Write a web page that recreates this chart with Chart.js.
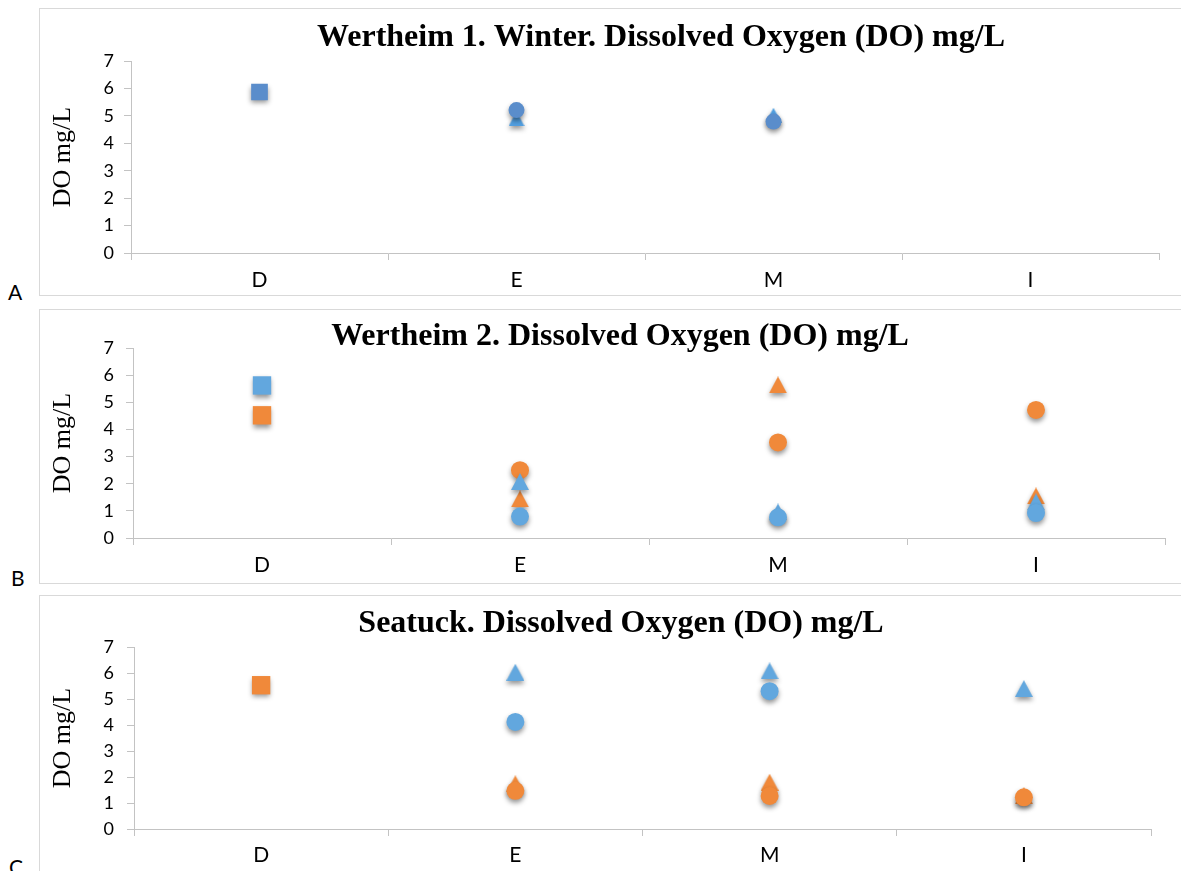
<!DOCTYPE html>
<html>
<head>
<meta charset="utf-8">
<script src="https://cdn.jsdelivr.net/npm/chart.js@4.4.1/dist/chart.umd.min.js"></script>
<style>
  html, body { margin: 0; padding: 0; background: #ffffff; }
  body { width: 1181px; height: 871px; position: relative; overflow: hidden; }
  .frame { position: absolute; left: 39px; width: 1200px; border: 1px solid #d9d9d9; box-sizing: border-box; }
  canvas { position: absolute; left: 40px; }
  .tag { position: absolute; font-family: Lato, "Open Sans", sans-serif; font-size: 21px; line-height: 21px; color: #000; }
</style>
</head>
<body>
<div class="frame" style="top:8px;height:288px"></div>
<div class="frame" style="top:309px;height:275px"></div>
<div class="frame" style="top:595px;height:320px"></div>

<canvas id="chartA" width="1141" height="285" style="top:9px"></canvas>
<canvas id="chartB" width="1141" height="273" style="top:310px"></canvas>
<canvas id="chartC" width="1141" height="275" style="top:596px"></canvas>

<div class="tag" style="left:8px;top:281px">A</div>
<div class="tag" style="left:11px;top:567px">B</div>
<div class="tag" style="left:9px;top:856px">C</div>

<script>
// Sampling sites along each transect
const categories = ['D', 'E', 'M', 'I'];
const yAxisTitle = 'DO mg/L';
const yMin = 0;
const yMax = 7;
const yStep = 1;

// Wertheim 1, winter survey
const w1Title = 'Wertheim 1. Winter. Dissolved Oxygen (DO) mg/L';
const w1SquareBlue   = [5.87, null, null, null];
const w1CircleBlue   = [null, 5.21, 4.79, null];
const w1TriangleBlue = [null, 4.89, 5.02, null];

// Wertheim 2
const w2Title = 'Wertheim 2. Dissolved Oxygen (DO) mg/L';
const w2SquareBlue     = [5.62, null, null, null];
const w2SquareOrange   = [4.52, null, null, null];
const w2CircleBlue     = [null, 0.79, 0.76, 0.92];
const w2TriangleBlue   = [null, 2.08, 0.96, 1.33];
const w2CircleOrange   = [null, 2.50, 3.52, 4.72];
const w2TriangleOrange = [null, 1.44, 5.64, 1.55];

// Seatuck
const stTitle = 'Seatuck. Dissolved Oxygen (DO) mg/L';
const stSquareOrange   = [5.53, null, null, null];
const stCircleBlue     = [null, 4.12, 5.30, null];
const stTriangleBlue   = [null, 6.03, 6.08, 5.40];
const stCircleOrange   = [null, 1.47, 1.27, 1.22];
const stTriangleOrange = [null, 1.74, 1.80, 1.28];

const BLUE = '#62a7de';
const ORANGE = '#f0893a';
const BLUE_DEEP = '#5a8dcb';
const BLUE_BRIGHT = '#529fe0';
const AXIS = '#c3c3c3';

// Triangle marker centred on its bounding box
function triangleSprite(color, w, h) {
  const c = document.createElement('canvas');
  c.width = w; c.height = h;
  const g = c.getContext('2d');
  g.fillStyle = color;
  g.beginPath();
  g.moveTo(w / 2, 0);
  g.lineTo(w, h);
  g.lineTo(0, h);
  g.closePath();
  g.fill();
  return c;
}

function markers(label, values, color, style, radius, order) {
  return {
    label: label,
    data: values,
    showLine: false,
    order: order,
    pointStyle: style,
    pointRadius: radius,
    pointHoverRadius: radius,
    pointBackgroundColor: color,
    pointBorderColor: color,
    pointBorderWidth: 0,
    borderColor: color,
    backgroundColor: color
  };
}

// Soft drop shadow under every marker
const markerShadow = {
  id: 'markerShadow',
  beforeDatasetsDraw(chart) {
    const ctx = chart.ctx;
    ctx.save();
    ctx.shadowColor = 'rgba(0,0,0,0.42)';
    ctx.shadowBlur = 5;
    ctx.shadowOffsetX = 0;
    ctx.shadowOffsetY = 3;
  },
  afterDatasetsDraw(chart) {
    chart.ctx.restore();
  }
};

// Panel heading drawn at a fixed centre/baseline
const heading = {
  id: 'heading',
  afterDraw(chart, args, opts) {
    const ctx = chart.ctx;
    ctx.save();
    ctx.font = 'bold 32px "Liberation Serif", "Times New Roman", serif';
    ctx.fillStyle = '#000000';
    ctx.textAlign = 'center';
    ctx.textBaseline = 'alphabetic';
    ctx.fillText(opts.text, opts.x, opts.y);
    ctx.restore();
  }
};

function buildChart(id, datasets, cfg) {
  return new Chart(document.getElementById(id), {
    type: 'line',
    data: { labels: categories, datasets: datasets },
    plugins: [markerShadow, heading],
    options: {
      responsive: false,
      animation: false,
      events: [],
      layout: { padding: { top: cfg.top, right: cfg.right, bottom: 0, left: 0 } },
      plugins: {
        legend: { display: false },
        tooltip: { enabled: false },
        heading: { text: cfg.title, x: cfg.titleX, y: cfg.titleY }
      },
      scales: {
        x: {
          type: 'category',
          offset: true,
          grid: { offset: true, drawOnChartArea: false, drawTicks: true, tickLength: 7, color: AXIS, lineWidth: 1 },
          border: { display: true, color: AXIS, width: 1 },
          ticks: { color: '#000000', font: { family: 'Lato', size: 21 }, padding: cfg.xPad, maxRotation: 0, autoSkip: false },
          afterFit: (s) => { s.height = cfg.xHeight; }
        },
        y: {
          min: yMin,
          max: yMax,
          grid: { drawOnChartArea: false, drawTicks: true, tickLength: 7, color: AXIS, lineWidth: 1 },
          border: { display: true, color: AXIS, width: 1 },
          ticks: { stepSize: yStep, color: '#000000', font: { family: 'Lato', size: 18 }, padding: cfg.yPad },
          title: {
            display: true,
            text: yAxisTitle,
            color: '#000000',
            font: { family: '"Liberation Serif", "Times New Roman", serif', size: 26 },
            padding: { top: 8, bottom: 0 }
          },
          afterFit: (s) => { s.width = cfg.yWidth; }
        }
      }
    }
  });
}

const triA = triangleSprite(BLUE_BRIGHT, 16, 15);
const triBlue = triangleSprite(BLUE, 18, 17);
const triOrange = triangleSprite(ORANGE, 18, 17);

buildChart('chartA', [
  markers('Circle (blue)', w1CircleBlue, BLUE_DEEP, 'circle', 8, 1),
  markers('Triangle (blue)', w1TriangleBlue, BLUE_BRIGHT, triA, 8, 2),
  markers('Square (blue)', w1SquareBlue, BLUE_DEEP, 'rect', 11.8, 5)
], { title: w1Title, titleX: 621, titleY: 37, top: 52, right: 22, yWidth: 91, yPad: 10, xHeight: 41, xPad: 8 });

buildChart('chartB', [
  markers('Circle (blue)', w2CircleBlue, BLUE, 'circle', 9, 1),
  markers('Triangle (blue)', w2TriangleBlue, BLUE, triBlue, 9, 2),
  markers('Circle (orange)', w2CircleOrange, ORANGE, 'circle', 9, 3),
  markers('Triangle (orange)', w2TriangleOrange, ORANGE, triOrange, 9, 4),
  markers('Square (blue)', w2SquareBlue, BLUE, 'rect', 13, 5),
  markers('Square (orange)', w2SquareOrange, ORANGE, 'rect', 13, 6)
], { title: w2Title, titleX: 580, titleY: 35, top: 38, right: 16, yWidth: 93, yPad: 12, xHeight: 45, xPad: 8 });

buildChart('chartC', [
  markers('Circle (blue)', stCircleBlue, BLUE, 'circle', 9, 1),
  markers('Triangle (blue)', stTriangleBlue, BLUE, triBlue, 9, 2),
  markers('Circle (orange)', stCircleOrange, ORANGE, 'circle', 9, 3),
  markers('Triangle (orange)', stTriangleOrange, ORANGE, triOrange, 9, 4),
  markers('Square (orange)', stSquareOrange, ORANGE, 'rect', 13, 6)
], { title: stTitle, titleX: 581, titleY: 36, top: 51, right: 30, yWidth: 94, yPad: 13, xHeight: 42, xPad: 7 });
</script>
</body>
</html>
